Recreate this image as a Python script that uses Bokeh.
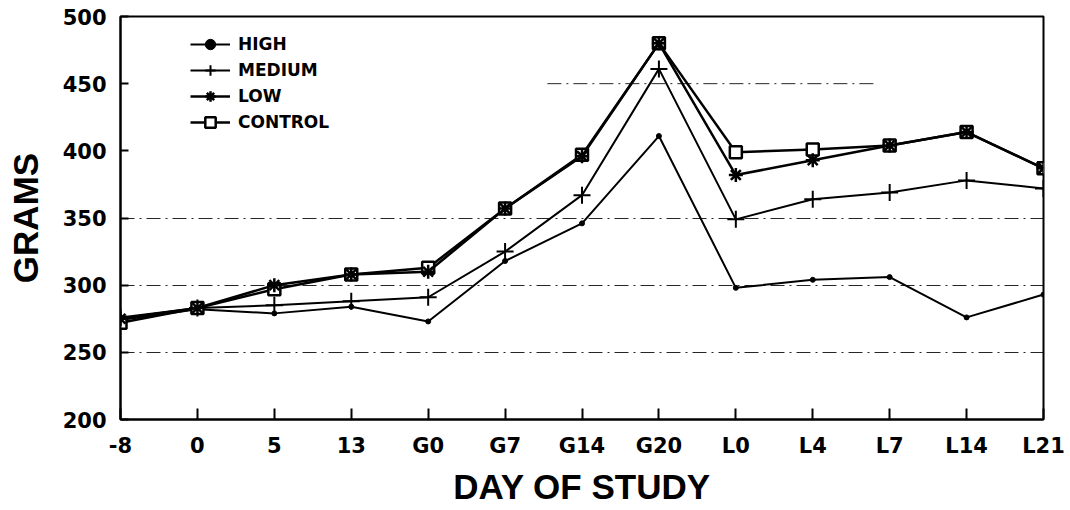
from bokeh.plotting import figure
from bokeh.models import Range1d, FixedTicker, Legend, LegendItem
from bokeh.embed import file_html
from bokeh.resources import INLINE

# ---- data ----
days = ["-8", "0", "5", "13", "G0", "G7", "G14", "G20", "L0", "L4", "L7", "L14", "L21"]
high = [274, 282, 279, 284, 273, 318, 346, 411, 298, 304, 306, 276, 293]
medium = [276, 283, 285, 288, 291, 325, 367, 461, 349, 364, 369, 378, 372]
low = [275, 283, 300, 308, 310, 357, 396, 480, 382, 393, 404, 414, 387]
control = [272, 283, 297, 308, 313, 357, 397, 480, 399, 401, 404, 414, 387]
y_ticks = [200, 250, 300, 350, 400, 450, 500]
grid_levels = [250, 300, 350]

xs = list(range(len(days)))

p = figure(width=1068, height=508, output_backend="svg", toolbar_location=None,
           x_range=Range1d(0, len(days) - 1), y_range=Range1d(200, 500),
           min_border_left=120, min_border_right=25, min_border_top=16, min_border_bottom=88)

p.background_fill_color = "white"
p.border_fill_color = "white"
p.outline_line_color = "black"
p.outline_line_width = 2

# grid
p.xgrid.visible = False
p.ygrid.ticker = FixedTicker(ticks=grid_levels)
p.ygrid.grid_line_color = "black"
p.ygrid.grid_line_width = 1
p.ygrid.grid_line_dash = "14 5 2 5"
p.ygrid.grid_line_alpha = 0.85
# partial dash-dot line at 450
p.segment(x0=[5.55], x1=[9.85], y0=[450], y1=[450], line_color="black",
          line_width=1, line_dash="14 5 2 5", line_alpha=0.85)

# axes
for ax in (p.xaxis[0], p.yaxis[0]):
    ax.axis_line_width = 2
    ax.axis_line_color = "black"
    ax.major_tick_line_width = 2
    ax.major_tick_line_color = "black"
    ax.major_tick_out = 0
    ax.minor_tick_line_color = None
    ax.major_label_text_font = "DejaVu Sans"
    ax.major_label_text_font_style = "bold"
    ax.major_label_text_font_size = "21px"
    ax.major_label_text_color = "black"
    ax.axis_label_text_font = "Liberation Sans"
    ax.axis_label_text_font_style = "bold"
    ax.axis_label_text_font_size = "35px"
    ax.axis_label_text_color = "black"

p.xaxis.ticker = FixedTicker(ticks=xs)
p.xaxis.major_label_overrides = {i: d for i, d in zip(xs, days)}
p.xaxis.major_tick_in = 11
p.xaxis.major_label_standoff = 14
p.xaxis.axis_label = "DAY OF STUDY"
p.xaxis.axis_label_standoff = 6

p.yaxis.ticker = FixedTicker(ticks=y_ticks)
p.yaxis.major_tick_in = 8
p.yaxis.major_label_standoff = 14
p.yaxis.axis_label = "GRAMS"
p.yaxis.axis_label_standoff = 15

# series
lh = p.line(xs, high, line_color="black", line_width=2)
mh = p.scatter(xs, high, marker="circle", size=5, fill_color="black", line_color="black")

lm = p.line(xs, medium, line_color="black", line_width=2)
mm = p.scatter(xs, medium, marker="cross", size=17, line_color="black", line_width=2)

lc = p.line(xs, control, line_color="black", line_width=2.5)
mc = p.scatter(xs, control, marker="square", size=12, fill_color="white",
               line_color="black", line_width=2.5)

ll = p.line(xs, low, line_color="black", line_width=2.5)
ml = p.scatter(xs, low, marker="asterisk", size=14, line_color="black", line_width=2.5)

legend = Legend(items=[
    LegendItem(label="HIGH", renderers=[lh, mh]),
    LegendItem(label="MEDIUM", renderers=[lm, mm]),
    LegendItem(label="LOW", renderers=[ll, ml]),
    LegendItem(label="CONTROL", renderers=[lc, mc]),
], location=(70, 284))
legend.background_fill_alpha = 0
legend.border_line_color = None
legend.padding = 0
legend.margin = 0
legend.spacing = 0
legend.glyph_width = 40
legend.glyph_height = 26
legend.label_height = 26
legend.label_standoff = 8
legend.label_text_font = "DejaVu Sans"
legend.label_text_font_style = "bold"
legend.label_text_font_size = "17px"
legend.label_text_color = "black"
p.add_layout(legend)

open("out.html", "w").write(file_html(p, INLINE))
